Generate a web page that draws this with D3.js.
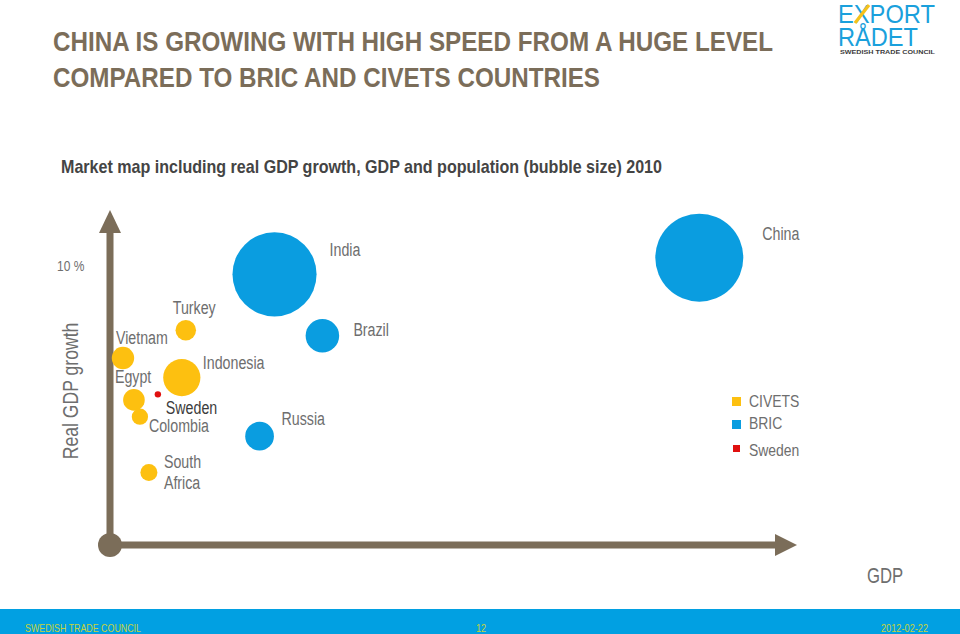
<!DOCTYPE html>
<html>
<head>
<meta charset="utf-8">
<script src="https://cdn.jsdelivr.net/npm/d3@7"></script>
<style>
  html, body { margin: 0; padding: 0; background: #fff; }
  svg { display: block; }
  text { font-family: "Liberation Sans", Arial, sans-serif; }
</style>
</head>
<body>
<script>
// ---- data (2010) ----
const countries   = ["China", "India", "Brazil", "Russia", "Indonesia", "Turkey", "Vietnam", "Egypt", "Sweden", "Colombia", "South Africa"];
const groups      = ["BRIC", "BRIC", "BRIC", "BRIC", "CIVETS", "CIVETS", "CIVETS", "CIVETS", "Sweden", "CIVETS", "CIVETS"];
const gdpTrillion = [5.89, 1.63, 2.11, 1.48, 0.70, 0.74, 0.11, 0.22, 0.46, 0.28, 0.37];
const gdpGrowth   = [10.3, 9.7, 7.5, 3.9, 6.0, 7.7, 6.7, 5.2, 5.4, 4.6, 2.6];
const population  = [1341, 1225, 195, 143, 240, 73, 87, 81, 9.4, 46, 50];
const legendItems = ["CIVETS", "BRIC", "Sweden"];
const yTickValues = [10];
const yTickLabels = ["10 %"];

// ---- layout ----
const W = 960, H = 634;
const colors = { CIVETS: "#fdc010", BRIC: "#0a9de0", Sweden: "#e0100f" };
const axisColor = "#7b6d59";
const labelColor = "#6e6e6e";

// condensed look: shrink each text horizontally to a narrow-face width
function condense(sel, f) {
  sel.each(function() {
    const len = this.getComputedTextLength();
    d3.select(this).attr("textLength", len * f).attr("lengthAdjust", "spacingAndGlyphs");
  });
  return sel;
}

// label placement (offset from bubble centre; layout only)
const labelOffset = {
  "China": [63, -18], "India": [55, -18], "Brazil": [31, 0], "Russia": [22, -11],
  "Indonesia": [21, -9], "Turkey": [-13, -16], "Vietnam": [-7, -14], "Egypt": [-19, -17],
  "Sweden": [8, 20], "Colombia": [9, 15], "South Africa": [15, -4]
};

const svg = d3.select("body").append("svg").attr("width", W).attr("height", H);

const x = d3.scaleLinear().domain([0, 6.9]).range([112, 800]);
const y = d3.scaleLinear().domain([0, 10]).range([545, 266]);
const r = d3.scaleSqrt().domain([0, 1341]).range([0, 44]);

// ---- title ----
svg.append("text").attr("x", 53).attr("y", 51)
  .attr("font-size", 28).attr("font-weight", "bold").attr("fill", axisColor)
  .attr("textLength", 720).attr("lengthAdjust", "spacingAndGlyphs")
  .text("CHINA IS GROWING WITH HIGH SPEED FROM A HUGE LEVEL");
svg.append("text").attr("x", 53).attr("y", 87)
  .attr("font-size", 28).attr("font-weight", "bold").attr("fill", axisColor)
  .attr("textLength", 547).attr("lengthAdjust", "spacingAndGlyphs")
  .text("COMPARED TO BRIC AND CIVETS COUNTRIES");

svg.append("text").attr("x", 61).attr("y", 173)
  .attr("font-size", 19).attr("font-weight", "bold").attr("fill", "#444")
  .attr("textLength", 601).attr("lengthAdjust", "spacingAndGlyphs")
  .text("Market map including real GDP growth, GDP and population (bubble size) 2010");

// ---- logo ----
const logo = svg.append("g");
logo.append("text").attr("x", 838).attr("y", 23)
  .attr("font-size", 25).attr("fill", "#1aa0dc")
  .attr("textLength", 97).attr("lengthAdjust", "spacingAndGlyphs")
  .text("EXPORT");
// yellow stroke of the X
logo.append("line").attr("x1", 855).attr("y1", 23).attr("x2", 869).attr("y2", 5)
  .attr("stroke", "#f5c21b").attr("stroke-width", 3.2);
logo.append("text").attr("x", 838).attr("y", 46)
  .attr("font-size", 25).attr("fill", "#1aa0dc")
  .attr("textLength", 80).attr("lengthAdjust", "spacingAndGlyphs")
  .text("RÅDET");
logo.append("text").attr("x", 840).attr("y", 54)
  .attr("font-size", 5.5).attr("font-weight", "bold").attr("fill", "#3a3a3a")
  .attr("textLength", 95).attr("lengthAdjust", "spacingAndGlyphs")
  .text("SWEDISH TRADE COUNCIL");

// ---- axes (arrows) ----
const x0 = x(0) - 2, y0 = y(0);
const axes = svg.append("g");
axes.append("line").attr("x1", x0).attr("y1", y0).attr("x2", x0).attr("y2", 230)
  .attr("stroke", axisColor).attr("stroke-width", 7);
axes.append("path").attr("d", `M${x0 - 11},233 L${x0},210 L${x0 + 11},233 Z`).attr("fill", axisColor);
axes.append("line").attr("x1", x0).attr("y1", y0).attr("x2", 778).attr("y2", y0)
  .attr("stroke", axisColor).attr("stroke-width", 7);
axes.append("path").attr("d", `M775,${y0 - 11} L797,${y0} L775,${y0 + 11} Z`).attr("fill", axisColor);
axes.append("circle").attr("cx", x0).attr("cy", y0).attr("r", 12).attr("fill", axisColor);

// y tick label
svg.selectAll(".ytick").data(yTickValues).join("text")
  .attr("class", "ytick")
  .attr("x", 57).attr("y", d => y(d) + 5)
  .attr("font-size", 15).attr("fill", labelColor)
  .text((d, i) => yTickLabels[i])
  .call(condense, 0.8);

// axis titles
svg.append("text")
  .attr("transform", "translate(78,391) rotate(-90)")
  .attr("text-anchor", "middle")
  .attr("font-size", 22).attr("fill", labelColor)
  .text("Real GDP growth")
  .call(condense, 0.8);
svg.append("text").attr("x", 867).attr("y", 583)
  .attr("font-size", 22).attr("fill", labelColor)
  .text("GDP")
  .call(condense, 0.76);

// ---- bubbles ----
const data = countries.map((c, i) => ({
  name: c, group: groups[i], gdp: gdpTrillion[i], growth: gdpGrowth[i], pop: population[i]
}));

svg.append("g").selectAll("circle").data(data).join("circle")
  .attr("cx", d => x(d.gdp))
  .attr("cy", d => y(d.growth))
  .attr("r", d => d.group === "Sweden" ? 3.2 : r(d.pop))
  .attr("fill", d => colors[d.group]);

const lines = data.flatMap(d => {
  const parts = d.name === "South Africa" ? ["South", "Africa"] : [d.name];
  return parts.map((p, i) => ({ d, text: p, line: i }));
});
svg.append("g").selectAll("text").data(lines).join("text")
  .attr("x", l => x(l.d.gdp) + labelOffset[l.d.name][0])
  .attr("y", l => y(l.d.growth) + labelOffset[l.d.name][1] + l.line * 20.5)
  .attr("font-size", 18)
  .attr("fill", l => l.d.group === "Sweden" ? "#3c3c3c" : labelColor)
  .text(l => l.text)
  .call(condense, 0.79);

// ---- legend ----
const lg = svg.append("g").selectAll("g").data(legendItems).join("g")
  .attr("transform", (d, i) => `translate(732,${[397, 420, 445][i]})`);
lg.append("rect")
  .attr("x", d => d === "Sweden" ? 1 : 0)
  .attr("y", 0)
  .attr("width", d => d === "Sweden" ? 7 : 9)
  .attr("height", d => d === "Sweden" ? 7 : 9)
  .attr("fill", d => colors[d]);
lg.append("text").attr("x", 17).attr("y", (d, i) => [10, 9, 11][i])
  .attr("font-size", 17).attr("fill", labelColor).text(d => d)
  .call(condense, 0.82);

// ---- footer ----
svg.append("rect").attr("x", 0).attr("y", 609).attr("width", W).attr("height", H - 609).attr("fill", "#01a0e2");
const foot = svg.append("g");
foot.append("text").attr("x", 25).attr("y", 632).attr("fill", "#c5d23b").attr("font-size", 11.5)
  .text("SWEDISH TRADE COUNCIL").call(condense, 0.77);
foot.append("text").attr("x", 476).attr("y", 632).attr("fill", "#c5d23b").attr("font-size", 11.5)
  .text("12").call(condense, 0.8);
foot.append("text").attr("x", 881).attr("y", 632).attr("fill", "#c5d23b").attr("font-size", 11.5)
  .text("2012-02-22").call(condense, 0.8);
</script>
</body>
</html>
